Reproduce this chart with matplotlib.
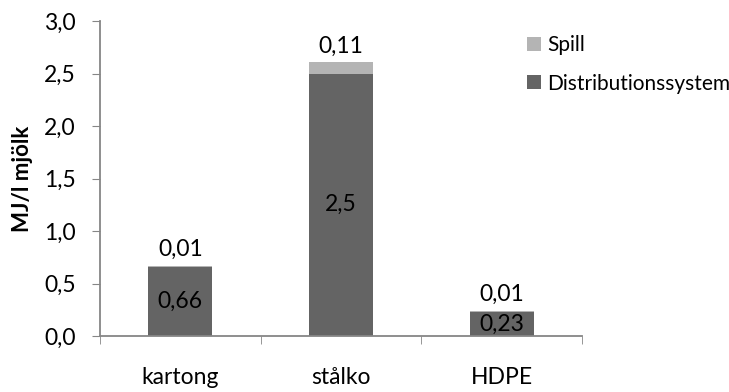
import matplotlib
matplotlib.use("Agg")
import matplotlib.pyplot as plt
import numpy as np

plt.rcParams["font.family"] = ["Lato", "DejaVu Sans"]

categories = ["kartong", "stålko", "HDPE"]
distribution = [0.66, 2.5, 0.23]
spill = [0.01, 0.11, 0.01]
series_names = ["Distributionssystem", "Spill"]
yticks = [0.0, 0.5, 1.0, 1.5, 2.0, 2.5, 3.0]

dark = "#646464"
light = "#b4b4b4"
axis_col = "#868686"
fs = 16.5


def fmt(v):
    return ("%g" % v).replace(".", ",")


fig = plt.figure(figsize=(7.29, 3.92), dpi=100)
ax = fig.add_axes([100 / 729, 56 / 392, 482 / 729, 315 / 392])

x = np.arange(len(categories))
width = 0.4
b1 = ax.bar(x, distribution, width, color=dark, label=series_names[0])
b2 = ax.bar(x, spill, width, bottom=distribution, color=light, label=series_names[1])

# labels: distribution centred in bar, spill just above the stack
for xi, d, s in zip(x, distribution, spill):
    ax.text(xi, d / 2, fmt(d), ha="center", va="center", fontsize=fs, color="black")
    ax.annotate(fmt(s), (xi, d + s), xytext=(0, 11.5), textcoords="offset points",
                ha="center", va="center", fontsize=fs)

ax.set_xlim(-0.5, len(categories) - 0.5)
ax.set_ylim(0, 3.0)
ax.set_yticks(yticks)
ax.set_yticklabels([("%.1f" % t).replace(".", ",") for t in yticks], fontsize=fs)
ax.set_xticks(x)
ax.set_xticklabels(categories, fontsize=fs)
ax.set_xticks(np.arange(-0.5, len(categories)), minor=True)
ax.tick_params(axis="x", which="major", length=0, pad=22)
ax.tick_params(axis="x", which="minor", length=5.5, color=axis_col, direction="out")
ax.tick_params(axis="y", length=5.5, color=axis_col, direction="out", pad=12)

for side in ["top", "right"]:
    ax.spines[side].set_visible(False)
for side in ["left", "bottom"]:
    ax.spines[side].set_color(axis_col)
    ax.spines[side].set_linewidth(1.3)

ax.set_ylabel("MJ/l mjölk", fontsize=16, fontweight="bold", labelpad=8)

leg = fig.legend([b2, b1], [series_names[1], series_names[0]], loc="upper left",
                 bbox_to_anchor=(527 / 729, 1 - 35 / 392), frameon=False,
                 fontsize=15, handlelength=0.65, handleheight=0.65,
                 handletextpad=0.3, labelspacing=0.9, borderpad=0,
                 borderaxespad=0)

fig.savefig("out.png", dpi=100)
